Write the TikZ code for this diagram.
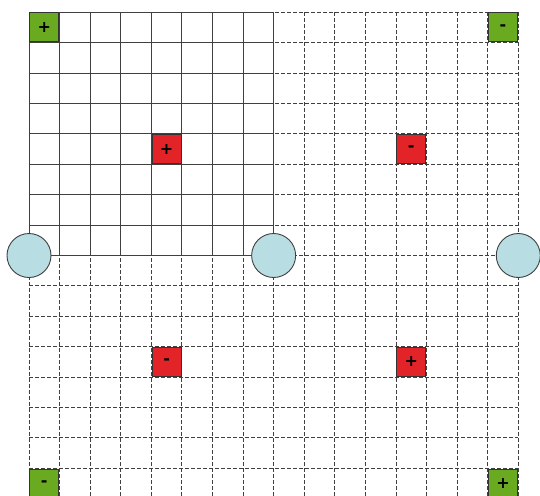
\documentclass[tikz,border=0pt]{standalone}
\usepackage{fontspec}
\setmainfont{DejaVu Sans}
\begin{document}
\begin{tikzpicture}[x=1pt,y=-1pt,
  dgrid/.style={draw=black!75, line width=0.9pt, dash pattern=on 3.5pt off 2.5pt},
  sgrid/.style={draw=black!75, line width=0.9pt},
  cellbox/.style={draw=black!80, line width=1pt, minimum width=29pt, minimum height=29pt, inner sep=0pt, font=\bfseries\fontsize{16}{16}\selectfont},
  gbox/.style={cellbox, fill=gcol},
  rbox/.style={cellbox, fill=rcol},
  port/.style={circle, draw=black!75, line width=0.9pt, fill=bcol, minimum size=44pt, inner sep=0pt}
]
\definecolor{gcol}{RGB}{106,170,32}
\definecolor{rcol}{RGB}{226,36,40}
\definecolor{bcol}{RGB}{184,221,227}
\useasboundingbox (0,0) rectangle (540,495);
\def\xo{29}\def\yo{12.3}\def\cw{30.58}\def\ch{30.4}
\begin{scope}
\clip (0,0) rectangle (540,495);
% dashed grid everywhere
\foreach \i in {0,...,16}{
  \draw[dgrid] ({\xo+\i*\cw},\yo) -- ({\xo+\i*\cw},500);
  \draw[dgrid] (\xo,{\yo+\i*\ch}) -- ({\xo+16*\cw},{\yo+\i*\ch});
}
% solid top-left grid
\fill[white] (\xo,\yo) rectangle ({\xo+8*\cw},{\yo+8*\ch});
\foreach \i in {0,...,8}{
  \draw[sgrid] ({\xo+\i*\cw},\yo) -- ({\xo+\i*\cw},{\yo+8*\ch});
  \draw[sgrid] (\xo,{\yo+\i*\ch}) -- ({\xo+8*\cw},{\yo+\i*\ch});
}
% squares
\node[gbox] (g1) at ({\xo+0.5*\cw},{\yo+0.5*\ch}) {+};
\node[gbox] (g2) at ({\xo+15.5*\cw},{\yo+0.5*\ch}) {-};
\node[gbox] (g3) at ({\xo+0.5*\cw},{\yo+15.5*\ch}) {-};
\node[gbox] (g4) at ({\xo+15.5*\cw},{\yo+15.5*\ch}) {+};
\node[rbox] (r1) at ({\xo+4.5*\cw},{\yo+4.5*\ch}) {+};
\node[rbox] (r2) at ({\xo+12.5*\cw},{\yo+4.5*\ch}) {-};
\node[rbox] (r3) at ({\xo+4.5*\cw},{\yo+11.5*\ch}) {-};
\node[rbox] (r4) at ({\xo+12.5*\cw},{\yo+11.5*\ch}) {+};
% circles
\node[port] (c1) at (\xo,{\yo+8*\ch}) {};
\node[port] (c2) at ({\xo+8*\cw},{\yo+8*\ch}) {};
\node[port] (c3) at ({\xo+16*\cw},{\yo+8*\ch}) {};
\end{scope}
\end{tikzpicture}
\end{document}
